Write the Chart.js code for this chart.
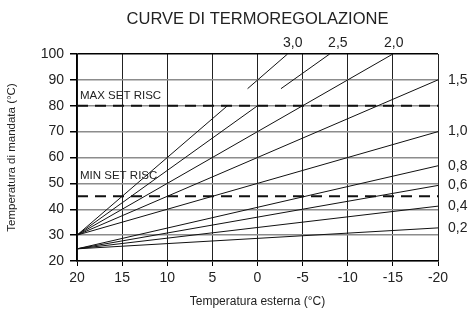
<!DOCTYPE html>
<html><head><meta charset="utf-8">
<script src="https://cdn.jsdelivr.net/npm/chart.js@4/dist/chart.umd.min.js"></script>
<style>html,body{margin:0;padding:0;background:#fff;}canvas{display:block;}</style>
</head><body>
<canvas id="c" width="470" height="309"></canvas>
<script>
// ---- text ----
const titleText = 'CURVE DI TERMOREGOLAZIONE';
const xTitleText = 'Temperatura esterna (°C)';
const yTitleText = 'Temperatura di mandata (°C)';
const setLabels = ['MAX SET RISC', 'MIN SET RISC'];

// ---- axes ----
const xMin = -20, xMax = 20, xStep = 5;
const yMin = 20, yMax = 100, yStep = 10;

// ---- curves (outdoor temp -> flow temp); null = break in the line ----
const outdoor30 = [20, 3.33, 2.2, 1.1, -3.33];
const flow30    = [30, 80, null, 86.6, 100];
const outdoor25 = [20, 0, -1.3, -2.6, -8];
const flow25    = [30, 80, null, 86.6, 100];
const outdoor20 = [20, -15];
const flow20    = [30, 100];
const outdoorFull = [20, -20];
const flow15 = [30, 90];
const flow10 = [30, 70];
const flow08 = [24.7, 56.8];
const flow06 = [24.7, 49.2];
const flow04 = [24.7, 41.2];
const flow02 = [24.7, 32.8];

// ---- set limits ----
const maxSet = 80;
const minSet = 45;

// ---- curve labels ----
const topLabels = ['3,0', '2,5', '2,0'];
const topLabelX = [-3.9, -8.9, -15.1];
const rightLabels = ['1,5', '1,0', '0,8', '0,6', '0,4', '0,2'];
const rightLabelY = [flow15[1], flow10[1], flow08[1], flow06[1], flow04[1], flow02[1]];

const pts = (xs, ys) => xs.map((x, i) => ({x: x, y: ys[i]}));
const curve = (xs, ys) => ({data: pts(xs, ys), borderColor: '#111', borderWidth: 1, pointRadius: 0, spanGaps: false, tension: 0});
const dashed = (v) => ({data: pts(outdoorFull, [v, v]), borderColor: '#111', borderWidth: 2, borderDash: [11, 7], pointRadius: 0});

Chart.defaults.font.family = "'Liberation Sans', Arial, sans-serif";
Chart.defaults.color = '#222';

const annot = {
  id: 'annot',
  beforeDatasetsDraw(chart) {
    const {ctx, scales: {x, y}} = chart;
    ctx.save();
    ctx.fillStyle = '#222';
    ctx.font = "11.5px 'Liberation Sans', Arial, sans-serif";
    ctx.textAlign = 'left';
    ctx.textBaseline = 'middle';
    ctx.fillText(setLabels[0], x.left + 3, y.getPixelForValue(maxSet) - 9.5);
    ctx.fillText(setLabels[1], x.left + 3, y.getPixelForValue(minSet) - 20);
    ctx.font = "14px 'Liberation Sans', Arial, sans-serif";
    ctx.textAlign = 'center';
    topLabels.forEach((t, i) => ctx.fillText(t, x.getPixelForValue(topLabelX[i]), y.top - 11));
    ctx.restore();
  }
};

new Chart(document.getElementById('c'), {
  type: 'line',
  data: {
    datasets: [
      curve(outdoor30, flow30),
      curve(outdoor25, flow25),
      curve(outdoor20, flow20),
      curve(outdoorFull, flow15),
      curve(outdoorFull, flow10),
      curve(outdoorFull, flow08),
      curve(outdoorFull, flow06),
      curve(outdoorFull, flow04),
      curve(outdoorFull, flow02),
      dashed(maxSet),
      dashed(minSet)
    ]
  },
  options: {
    responsive: false,
    animation: false,
    layout: {padding: 0},
    plugins: {
      legend: {display: false},
      tooltip: {enabled: false},
      title: {
        display: true, text: titleText, fullSize: false,
        font: {size: 16.5, weight: 'normal'}, color: '#222',
        padding: {top: 10, bottom: 24.2}
      }
    },
    scales: {
      x: {
        type: 'linear', reverse: true, min: xMin, max: xMax,
        ticks: {stepSize: xStep, font: {size: 14}, padding: 4, color: '#222'},
        grid: {color: '#222', lineWidth: 1, tickLength: 5, tickColor: '#000'},
        border: {color: '#000', width: 1.5},
        title: {display: true, text: xTitleText, font: {size: 12}, color: '#222', padding: {top: 0, bottom: 0}},
        afterFit: s => { s.height = 48; }
      },
      y: {
        type: 'linear', position: 'left', min: yMin, max: yMax,
        ticks: {stepSize: yStep, font: {size: 14}, padding: 6, color: '#222'},
        grid: {color: ctx => (ctx.tick && ctx.tick.value === yMax ? '#000' : '#8c8c8c'), lineWidth: 1.5, tickLength: 7, tickColor: '#000'},
        border: {color: '#000', width: 1.5},
        title: {display: true, text: yTitleText, font: {size: 11.5}, color: '#222', padding: {top: 5, bottom: 0}},
        afterFit: s => { s.width = 77; }
      },
      yR: {
        type: 'linear', position: 'right', min: yMin, max: yMax,
        afterBuildTicks: s => { s.ticks = rightLabelY.map(v => ({value: v})); },
        ticks: {autoSkip: false, font: {size: 14}, padding: 10, color: '#222',
          callback: (v) => rightLabels[rightLabelY.indexOf(v)]},
        grid: {display: false, drawTicks: false},
        border: {display: false},
        afterFit: s => { s.width = 32; }
      }
    }
  },
  plugins: [annot]
});
</script>
</body></html>
